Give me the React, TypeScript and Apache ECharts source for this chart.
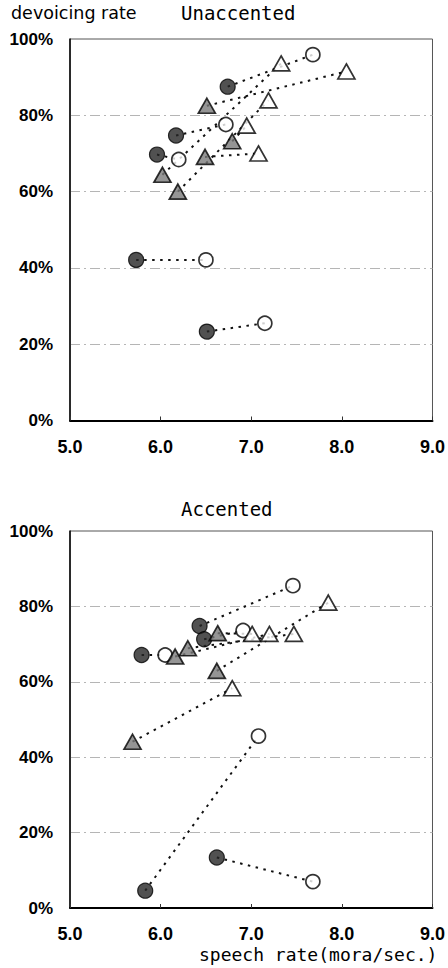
import React, { useEffect, useRef } from "react";
import * as echarts from "echarts";

// ---- Data (speech rate mora/sec., devoicing rate %) ----
// Unaccented: paired points (slow = filled, fast = open)
const unaccCircleSlow = [[5.73, 42.1], [6.51, 23.3], [6.74, 87.5], [6.17, 74.7], [5.96, 69.7]];
const unaccCircleFast = [[6.50, 42.1], [7.15, 25.5], [7.68, 95.9], [6.72, 77.6], [6.20, 68.4]];
const unaccTriSlow = [[6.51, 82.5], [6.02, 64.4], [6.19, 60.0], [6.79, 73.2], [6.49, 69.1]];
const unaccTriFast = [[8.05, 91.5], [7.33, 93.6], [7.19, 83.9], [6.95, 77.3], [7.08, 70.0]];

// Accented
const accCircleSlow = [[5.83, 4.6], [6.62, 13.4], [5.79, 67.1], [6.43, 74.8], [6.48, 71.3]];
const accCircleFast = [[7.08, 45.6], [7.68, 7.0], [6.05, 67.1], [7.46, 85.5], [6.91, 73.6]];
const accTriSlow = [[5.69, 44.1], [6.62, 62.9], [6.63, 72.9], [6.30, 68.9], [6.16, 66.7]];
const accTriFast = [[6.79, 58.3], [7.85, 81.0], [7.01, 72.7], [7.47, 72.7], [7.20, 72.7]];

const xTicks = { min: 5, max: 9, interval: 1 };
const yTicks = { min: 0, max: 100, interval: 20 };

const TICK_FONT = "'Liberation Sans', Arial, sans-serif";
const MONO = "'DejaVu Sans Mono', monospace";
const SANS = "'DejaVu Sans', sans-serif";

function pairLines(slow: number[][], fast: number[][], gi: number) {
  return slow.map((s, i) => ({
    type: "line",
    xAxisIndex: gi,
    yAxisIndex: gi,
    data: [s, fast[i]],
    symbol: "none",
    silent: true,
    z: 2,
    lineStyle: { color: "#111", width: 2, type: [2.5, 5.5] },
  }));
}

function markers(gi: number, cs: number[][], cf: number[][], ts: number[][], tf: number[][]) {
  const base = { type: "scatter", xAxisIndex: gi, yAxisIndex: gi, z: 5 };
  return [
    { ...base, data: cs, symbol: "circle", symbolSize: 15, itemStyle: { color: "#262626", borderColor: "#000", borderWidth: 1.2 } },
    { ...base, data: cf, symbol: "circle", symbolSize: 14, itemStyle: { color: "#fff", borderColor: "#000", borderWidth: 1.7 } },
    { ...base, data: ts, symbol: "triangle", symbolSize: [17, 15], itemStyle: { color: "#7a7a7a", borderColor: "#000", borderWidth: 1.7 } },
    { ...base, data: tf, symbol: "triangle", symbolSize: [17, 15], itemStyle: { color: "#fff", borderColor: "#000", borderWidth: 1.7 } },
  ];
}

function xAxis(gi: number) {
  return {
    type: "value",
    gridIndex: gi,
    ...xTicks,
    axisLine: { show: true, lineStyle: { color: "#000", width: 2 } },
    axisTick: { show: true, inside: true, length: 4, lineStyle: { color: "#333" } },
    splitLine: { show: false },
    axisLabel: {
      margin: 17,
      color: "#000",
      fontSize: 18,
      fontWeight: "bold",
      fontFamily: TICK_FONT,
      formatter: (v: number) => v.toFixed(1),
    },
  };
}

function yAxis(gi: number) {
  return {
    type: "value",
    gridIndex: gi,
    ...yTicks,
    axisLine: { show: true, lineStyle: { color: "#000", width: 1.5 } },
    axisTick: { show: false },
    splitLine: { show: true, showMinLine: false, showMaxLine: false, lineStyle: { color: "#b5b5b5", width: 1, type: [10, 4, 2, 4] } },
    axisLabel: {
      margin: 17,
      color: "#000",
      fontSize: 17,
      fontWeight: "bold",
      fontFamily: TICK_FONT,
      formatter: "{value}%",
    },
  };
}

export default function App() {
  const ref = useRef<HTMLDivElement>(null);
  useEffect(() => {
    if (!ref.current) return;
    const chart = echarts.init(ref.current, undefined, { renderer: "svg" });
    chart.setOption({
      animation: false,
      backgroundColor: "#fff",
      grid: [
        { left: 70, top: 39, width: 363, height: 381.5, show: true, borderColor: "#555", borderWidth: 1 },
        { left: 70, top: 531, width: 364, height: 377, show: true, borderColor: "#555", borderWidth: 1 },
      ],
      xAxis: [xAxis(0), xAxis(1)],
      yAxis: [yAxis(0), yAxis(1)],
      graphic: [
        { type: "text", left: 11, top: 4, style: { text: "devoicing rate", font: `17.5px ${SANS}`, fill: "#000" } },
        { type: "text", left: 181, top: 3, style: { text: "Unaccented", font: `19px ${MONO}`, fill: "#000" } },
        { type: "text", left: 181, top: 499, style: { text: "Accented", font: `19px ${MONO}`, fill: "#000" } },
        { type: "text", left: 199, top: 945, style: { text: "speech rate(mora/sec.)", font: `18px ${MONO}`, fill: "#000" } },
      ],
      series: [
        ...pairLines(unaccCircleSlow, unaccCircleFast, 0),
        ...pairLines(unaccTriSlow, unaccTriFast, 0),
        ...pairLines(accCircleSlow, accCircleFast, 1),
        ...pairLines(accTriSlow, accTriFast, 1),
        ...markers(0, unaccCircleSlow, unaccCircleFast, unaccTriSlow, unaccTriFast),
        ...markers(1, accCircleSlow, accCircleFast, accTriSlow, accTriFast),
      ],
    });
    return () => chart.dispose();
  }, []);
  return <div ref={ref} style={{ position: "fixed", left: 0, top: 0, width: 448, height: 968 }} />;
}
